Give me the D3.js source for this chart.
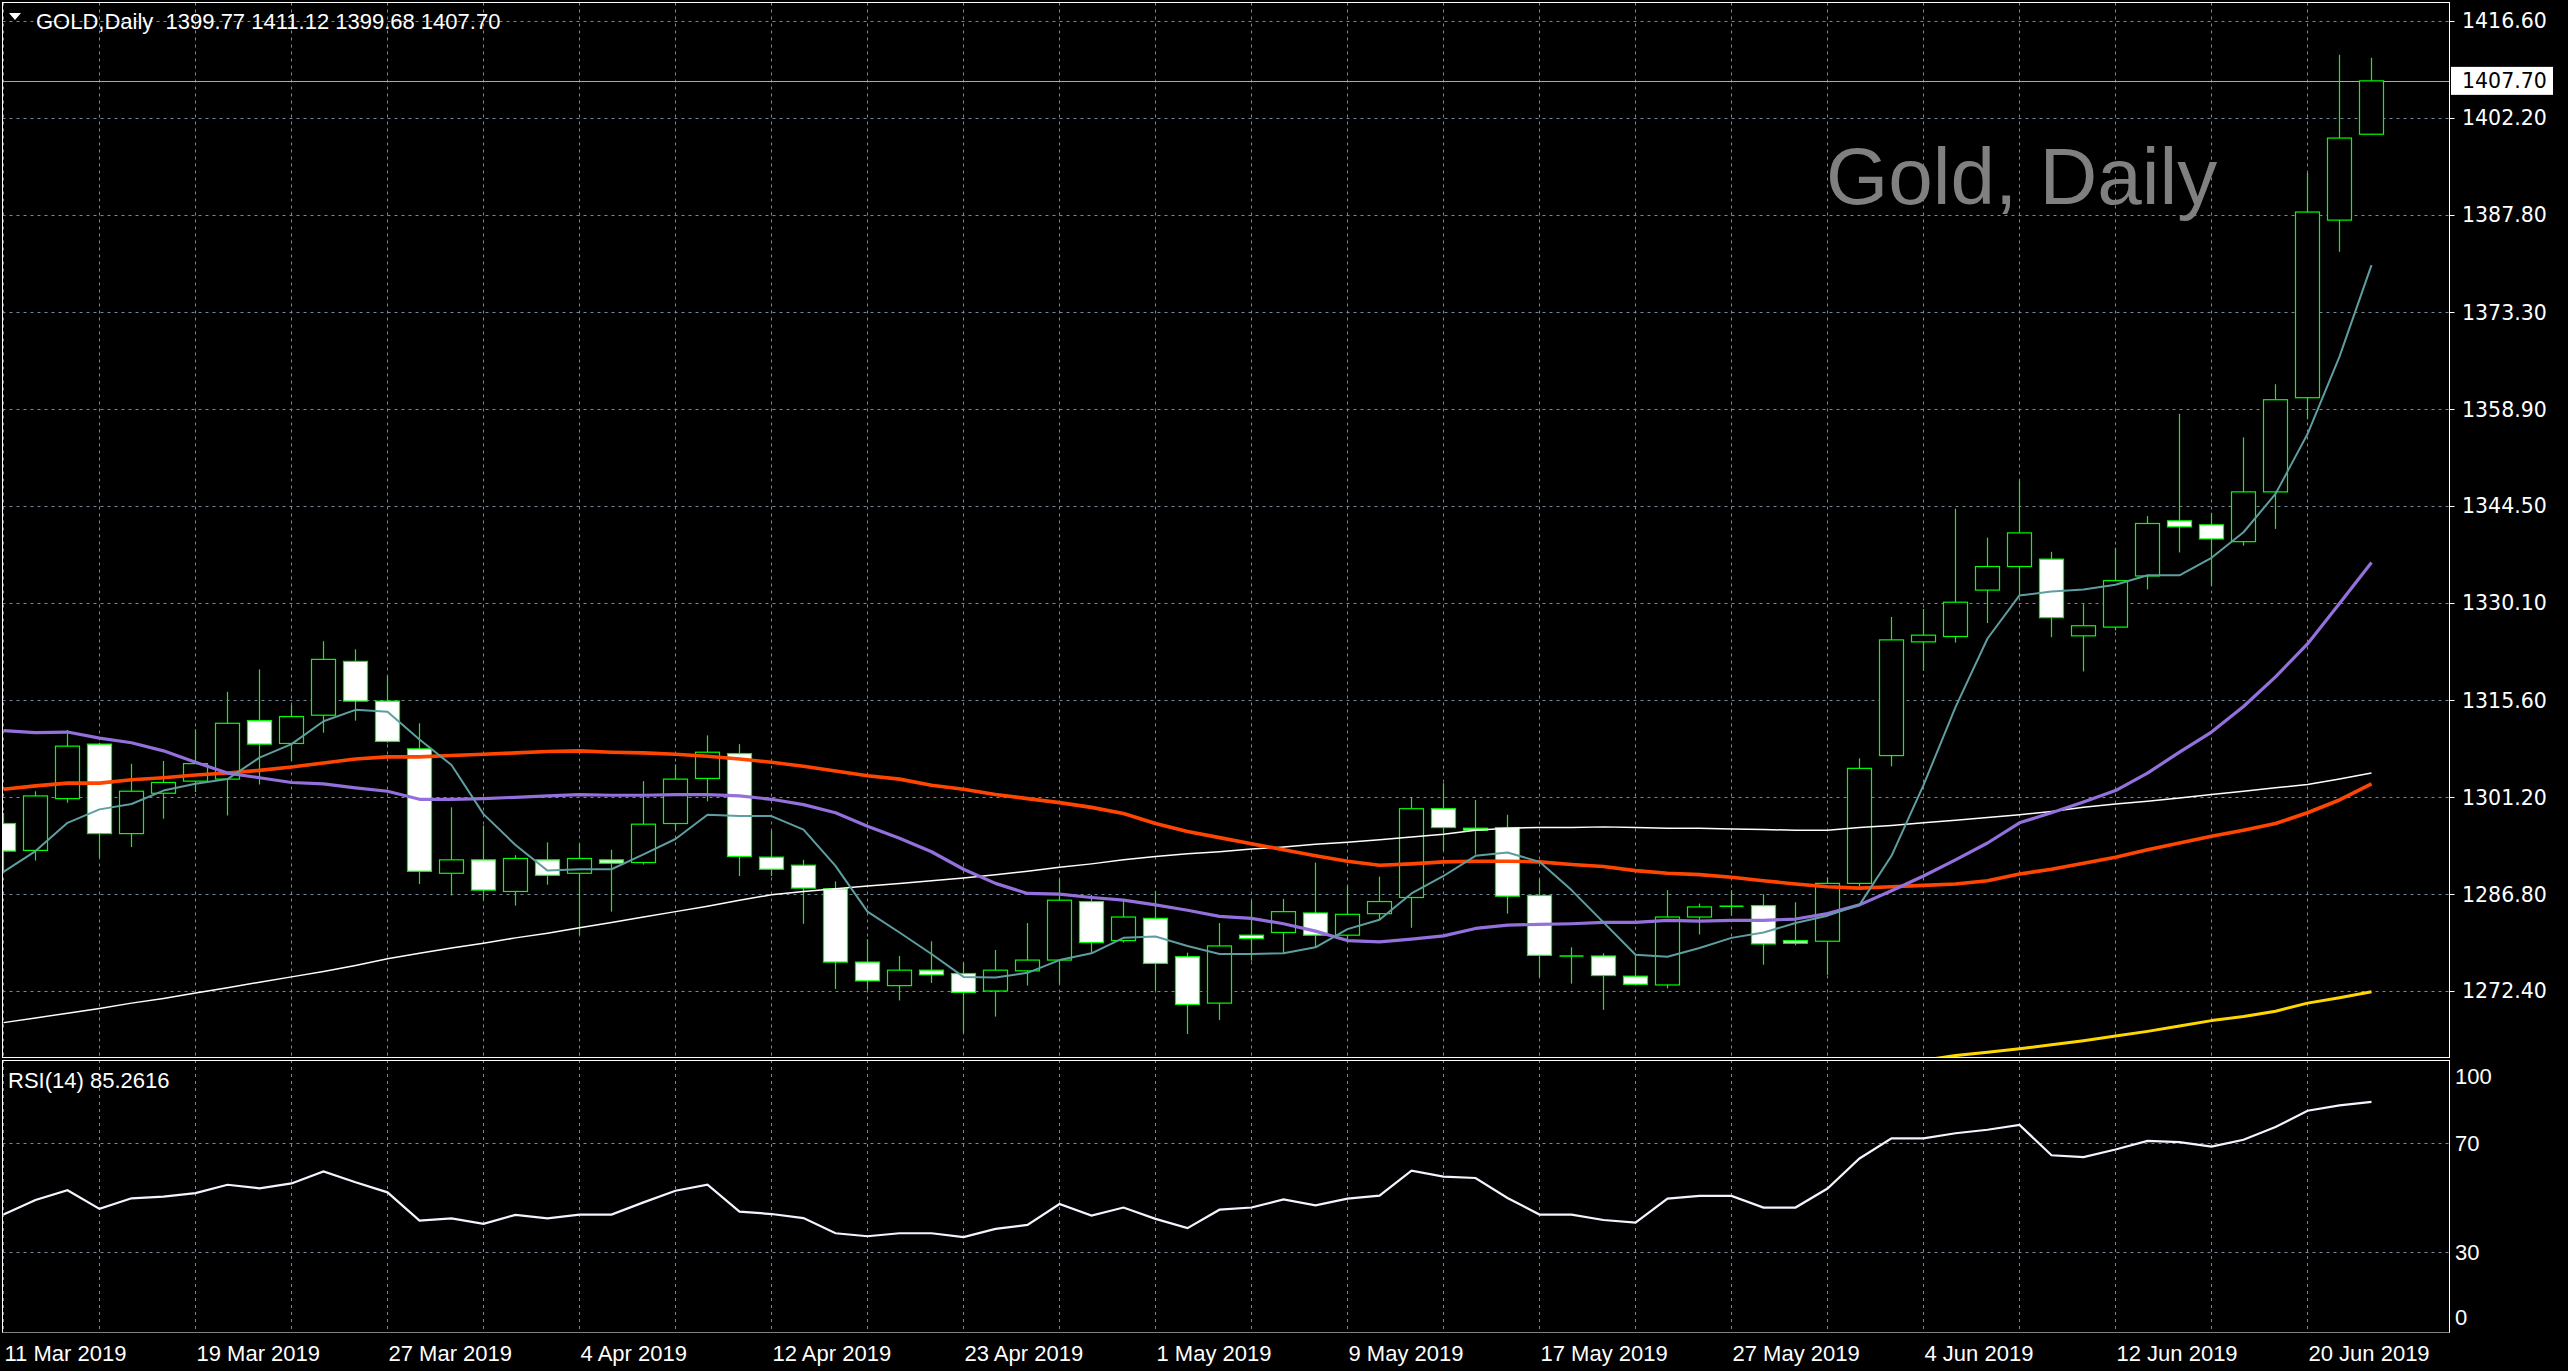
<!DOCTYPE html>
<html><head><meta charset="utf-8">
<script src="https://cdn.jsdelivr.net/npm/d3@7"></script>
<style>html,body{margin:0;padding:0;background:#000;overflow:hidden}</style>
</head><body>
<svg id="chart" width="2568" height="1371"></svg>
<script>
// ---------------- DATA ----------------
const dates = [
 "2019-03-11","2019-03-12","2019-03-13","2019-03-14","2019-03-15","2019-03-18","2019-03-19","2019-03-20","2019-03-21","2019-03-22",
 "2019-03-25","2019-03-26","2019-03-27","2019-03-28","2019-03-29","2019-04-01","2019-04-02","2019-04-03","2019-04-04","2019-04-05",
 "2019-04-08","2019-04-09","2019-04-10","2019-04-11","2019-04-12","2019-04-15","2019-04-16","2019-04-17","2019-04-18","2019-04-22",
 "2019-04-23","2019-04-24","2019-04-25","2019-04-26","2019-04-29","2019-04-30","2019-05-01","2019-05-02","2019-05-03","2019-05-06",
 "2019-05-07","2019-05-08","2019-05-09","2019-05-10","2019-05-13","2019-05-14","2019-05-15","2019-05-16","2019-05-17","2019-05-20",
 "2019-05-21","2019-05-22","2019-05-23","2019-05-24","2019-05-27","2019-05-28","2019-05-29","2019-05-30","2019-05-31","2019-06-03",
 "2019-06-04","2019-06-05","2019-06-06","2019-06-07","2019-06-10","2019-06-11","2019-06-12","2019-06-13","2019-06-14","2019-06-17",
 "2019-06-18","2019-06-19","2019-06-20","2019-06-21","2019-06-24"];

const openP = [1297.3,1293.3,1301.0,1309.1,1295.8,1301.8,1303.6,1303.9,1312.6,1309.2,
 1313.4,1321.4,1315.5,1308.4,1289.9,1291.9,1287.2,1291.9,1289.9,1291.9,
 1291.5,1297.3,1304.0,1307.7,1292.3,1291.1,1287.6,1276.7,1273.2,1275.5,
 1275.0,1272.4,1275.4,1277.0,1285.7,1279.9,1283.2,1277.5,1270.6,1280.7,
 1281.1,1284.0,1280.7,1283.9,1286.3,1299.5,1296.6,1296.7,1286.6,1277.6,
 1277.6,1274.6,1273.3,1283.4,1285.0,1285.1,1279.9,1279.8,1288.4,1307.4,
 1324.3,1325.1,1332.0,1335.5,1336.6,1325.2,1326.5,1334.1,1342.3,1341.7,
 1339.2,1346.6,1360.6,1387.0,1399.77];
const highP = [1298.9,1302.1,1311.2,1309.3,1306.2,1306.6,1311.3,1316.9,1320.2,1314.9,
 1324.4,1323.2,1319.2,1312.2,1299.7,1297.0,1292.6,1294.5,1294.3,1293.4,
 1303.6,1306.1,1310.4,1309.1,1296.2,1291.9,1288.7,1280.1,1277.6,1279.8,
 1276.6,1278.5,1282.5,1289.0,1286.7,1285.8,1287.3,1278.1,1282.5,1285.8,
 1286.1,1291.5,1288.1,1289.4,1301.2,1303.3,1300.8,1298.6,1289.0,1278.9,
 1278.0,1277.7,1287.4,1285.4,1287.4,1286.8,1285.6,1289.3,1307.0,1328.0,
 1329.2,1344.1,1339.8,1348.3,1337.7,1329.9,1338.3,1343.0,1358.2,1343.5,
 1354.7,1362.6,1394.0,1411.6,1411.12];
const lowP = [1290.2,1291.8,1300.4,1292.2,1293.8,1298.0,1302.0,1298.5,1303.1,1306.6,
 1310.8,1312.6,1309.3,1288.3,1286.6,1286.0,1285.1,1288.2,1280.7,1284.2,
 1291.2,1296.3,1300.6,1289.5,1289.5,1282.4,1272.7,1272.6,1271.0,1273.6,
 1266.2,1268.6,1273.2,1273.5,1278.1,1279.6,1272.5,1266.0,1268.1,1276.9,
 1278.0,1278.8,1279.6,1283.0,1281.8,1293.2,1292.7,1283.9,1274.5,1273.5,
 1269.6,1273.3,1272.8,1280.8,1283.6,1276.3,1279.2,1274.8,1287.9,1305.8,
 1320.0,1324.2,1327.1,1331.2,1325.0,1319.9,1326.0,1332.1,1337.6,1332.6,
 1338.6,1341.1,1357.4,1382.3,1399.68];
const closeP = [1293.2,1301.4,1308.8,1295.8,1302.1,1303.4,1306.2,1312.2,1309.1,1313.2,
 1321.7,1315.5,1309.5,1290.2,1291.9,1287.4,1292.1,1289.6,1292.1,1291.4,
 1297.2,1303.9,1307.9,1292.4,1290.5,1287.7,1276.7,1273.9,1275.5,1274.8,
 1272.2,1275.5,1277.0,1285.9,1279.6,1283.4,1276.5,1270.4,1279.1,1280.2,
 1284.2,1280.7,1283.8,1285.7,1299.5,1296.7,1296.3,1286.5,1277.7,1277.6,
 1274.7,1273.4,1283.4,1284.9,1285.0,1279.4,1279.5,1288.4,1305.5,1324.6,
 1325.3,1330.2,1335.5,1340.5,1327.9,1326.7,1333.4,1341.9,1341.4,1339.6,
 1346.6,1360.3,1388.2,1399.2,1407.70];

// moving averages
const maFast = [1290.1,1293.2,1297.4,1299.4,1300.2,1302.2,1303.2,1303.9,1307.1,1309.1,
 1312.5,1314.2,1313.9,1309.8,1306.0,1298.7,1294.1,1290.3,1290.5,1290.5,
 1292.7,1295.0,1298.6,1298.4,1298.4,1296.4,1291.0,1284.2,1281.1,1277.9,
 1274.5,1274.4,1275.1,1277.0,1278.0,1280.3,1280.5,1279.1,1277.9,1277.9,
 1278.0,1278.9,1281.6,1283.0,1286.9,1289.5,1292.5,1293.0,1291.6,1287.4,
 1282.6,1277.8,1277.5,1278.8,1280.3,1281.1,1282.5,1283.6,1285.2,1292.5,
 1303.0,1314.6,1324.8,1331.2,1331.8,1332.1,1332.8,1334.2,1334.2,1336.8,
 1340.6,1346.3,1355.2,1366.7,1380.3];
const maMid = [1311.1,1310.8,1310.9,1310.0,1309.3,1308.1,1306.4,1304.8,1304.1,1303.4,
 1303.2,1302.6,1302.1,1300.9,1300.9,1301.0,1301.2,1301.4,1301.6,1301.5,
 1301.5,1301.6,1301.6,1301.4,1300.9,1300.1,1298.9,1296.9,1295.1,1293.1,
 1290.5,1288.4,1286.9,1286.8,1286.3,1285.9,1285.2,1284.4,1283.5,1283.2,
 1282.4,1281.3,1279.9,1279.7,1280.1,1280.6,1281.7,1282.2,1282.3,1282.4,
 1282.6,1282.6,1282.9,1282.8,1282.9,1282.9,1283.1,1283.9,1285.2,1287.3,
 1289.5,1291.9,1294.4,1297.4,1298.9,1300.5,1302.2,1304.8,1307.9,1310.9,
 1314.7,1319.1,1324.0,1330.0,1336.1];
const maSlow = [1302.4,1302.9,1303.3,1303.3,1303.8,1304.1,1304.5,1304.8,1305.2,1305.7,
 1306.3,1306.9,1307.2,1307.2,1307.4,1307.6,1307.8,1308.0,1308.1,1307.9,
 1307.8,1307.6,1307.3,1306.9,1306.4,1305.8,1305.1,1304.4,1303.9,1303.0,
 1302.4,1301.6,1301.0,1300.4,1299.7,1298.8,1297.3,1296.1,1295.2,1294.3,
 1293.4,1292.5,1291.7,1291.1,1291.3,1291.6,1291.7,1291.7,1291.6,1291.2,
 1290.9,1290.3,1289.9,1289.7,1289.3,1288.8,1288.3,1287.9,1287.7,1287.9,
 1288.1,1288.3,1288.8,1289.8,1290.5,1291.4,1292.3,1293.4,1294.4,1295.4,
 1296.3,1297.3,1298.9,1300.8,1303.2];
const maLong = [1267.7,1268.4,1269.1,1269.8,1270.6,1271.3,1272.1,1272.9,1273.7,1274.5,
 1275.3,1276.2,1277.2,1278.0,1278.8,1279.5,1280.3,1281.0,1281.8,1282.6,
 1283.4,1284.2,1285.0,1285.9,1286.7,1287.2,1287.6,1288.0,1288.4,1288.8,
 1289.2,1289.7,1290.2,1290.8,1291.3,1291.9,1292.4,1292.8,1293.1,1293.5,
 1293.8,1294.2,1294.5,1294.9,1295.3,1295.7,1296.3,1296.6,1296.7,1296.7,
 1296.8,1296.7,1296.6,1296.6,1296.5,1296.4,1296.3,1296.3,1296.7,1297.0,
 1297.4,1297.8,1298.2,1298.6,1299.1,1299.7,1300.2,1300.6,1301.1,1301.6,
 1302.1,1302.6,1303.1,1303.9,1304.8];
const maVeryLongFrom = "2019-06-04";
const maVeryLong = [1262.1,1262.8,1263.3,1263.8,1264.4,1265.0,1265.7,1266.4,1267.2,1268.0,
 1268.6,1269.4,1270.6,1271.4,1272.3];

const rsiValues = [43.7,49.1,52.7,45.8,49.7,50.3,51.6,54.7,53.4,55.2,
 59.6,55.6,51.9,41.5,42.3,40.3,43.6,42.3,43.7,43.7,
 48.2,52.5,54.7,44.8,43.9,42.4,36.8,35.7,36.8,36.8,
 35.4,38.4,39.9,47.6,43.3,46.3,42.1,38.7,45.5,46.3,
 49.3,47.1,49.6,50.7,59.9,57.7,57.2,49.8,43.7,43.7,
 41.7,40.7,49.6,50.6,50.6,46.3,46.3,53.3,64.4,71.8,
 71.8,73.7,75.0,76.8,65.6,64.9,67.7,70.9,70.4,68.8,
 71.3,76.0,82.0,84.0,85.26];

const priceTicks = [1416.60,1402.20,1387.80,1373.30,1358.90,1344.50,1330.10,1315.60,1301.20,1286.80,1272.40];
const rsiTicks = [100,70,30,0];
const rsiGridLevels = [70,30];
const lastPrice = 1407.70;
const headerText = "GOLD,Daily  1399.77 1411.12 1399.68 1407.70";
const rsiHeader = "RSI(14) 85.2616";
const watermark = "Gold, Daily";

// ---------------- LAYOUT ----------------
const L = 2.5, R = 2449.5, T = 2.5, MB = 1057, RT = 1060, RB = 1332.5;
const labelFont = "'Liberation Sans', Arial, sans-serif";
const priceFont = "'DejaVu Sans', Verdana, sans-serif";
const gridColor = "#778899";
const candleColor = "#00ff00";

const svg = d3.select("#chart");
svg.append("rect").attr("width", 2568).attr("height", 1371).attr("fill", "#000");

const x = d3.scalePoint().domain(dates).range([3.5, 3.5 + 32 * (dates.length - 1)]);
const y = d3.scaleLinear().domain([1262.59, 1419.35]).range([MB, T]);
const yR = d3.scaleLinear().domain([0, 100]).range([1333, 1062]);
const fmtDate = d3.timeFormat("%-d %b %Y");
const parse = d3.timeParse("%Y-%m-%d");

const defs = svg.append("defs");
defs.append("clipPath").attr("id", "clipMain").append("rect")
  .attr("x", L).attr("y", T).attr("width", R - L).attr("height", MB - T);
defs.append("clipPath").attr("id", "clipRsi").append("rect")
  .attr("x", L).attr("y", RT).attr("width", R - L).attr("height", RB - RT);

// ---- grid ----
const grid = svg.append("g").attr("stroke", gridColor).attr("stroke-width", 1).attr("stroke-dasharray", "3,4");
const vIdx = dates.filter((d, i) => i % 3 === 0);
grid.selectAll(".vg").data(vIdx).join("line")
  .attr("x1", d => x(d)).attr("x2", d => x(d)).attr("y1", T).attr("y2", MB);
grid.selectAll(".vgr").data(vIdx).join("line")
  .attr("x1", d => x(d)).attr("x2", d => x(d)).attr("y1", RT).attr("y2", RB);
grid.selectAll(".hg").data(priceTicks).join("line")
  .attr("x1", L).attr("x2", R).attr("y1", d => Math.round(y(d)) + 0.5).attr("y2", d => Math.round(y(d)) + 0.5);
grid.selectAll(".hgr").data(rsiGridLevels).join("line")
  .attr("x1", L).attr("x2", R).attr("y1", d => Math.round(yR(d)) + 0.5).attr("y2", d => Math.round(yR(d)) + 0.5);

// ---- watermark ----
svg.append("text").attr("x", 1826).attr("y", 204)
  .attr("font-family", "'Liberation Sans', Arial, sans-serif").attr("font-size", 80)
  .attr("fill", "#808080").text(watermark);

// ---- last price line ----
const main = svg.append("g").attr("clip-path", "url(#clipMain)");
main.append("line").attr("x1", L).attr("x2", R)
  .attr("y1", Math.round(y(lastPrice)) + 0.5).attr("y2", Math.round(y(lastPrice)) + 0.5)
  .attr("stroke", "#a9a9a9").attr("stroke-width", 1);

// ---- candles ----
const bars = dates.map((d, i) => ({d, o: openP[i], h: highP[i], l: lowP[i], c: closeP[i]}));
const cg = main.append("g");
cg.selectAll(".wick").data(bars).join("line")
  .attr("x1", b => x(b.d)).attr("x2", b => x(b.d))
  .attr("y1", b => y(b.h)).attr("y2", b => y(b.l))
  .attr("stroke", candleColor).attr("stroke-width", 1.2);
cg.selectAll(".body").data(bars.filter(b => Math.abs(y(b.o) - y(b.c)) >= 1)).join("rect")
  .attr("x", b => x(b.d) - 12).attr("width", 24)
  .attr("y", b => Math.min(y(b.o), y(b.c))).attr("height", b => Math.abs(y(b.o) - y(b.c)))
  .attr("fill", b => b.c >= b.o ? "#000" : "#fff")
  .attr("stroke", candleColor).attr("stroke-width", 1.2);
cg.selectAll(".doji").data(bars.filter(b => Math.abs(y(b.o) - y(b.c)) < 1)).join("line")
  .attr("x1", b => x(b.d) - 12).attr("x2", b => x(b.d) + 12)
  .attr("y1", b => y(b.c)).attr("y2", b => y(b.c))
  .attr("stroke", candleColor).attr("stroke-width", 1.5);

// ---- moving averages ----
const lineGen = d3.line().x(p => x(p[0])).y(p => y(p[1]));
function drawMA(vals, from, color, width) {
  const start = dates.indexOf(from);
  const pts = vals.map((v, i) => [dates[start + i], v]);
  main.append("path").datum(pts).attr("d", lineGen)
    .attr("fill", "none").attr("stroke", color).attr("stroke-width", width)
    .attr("stroke-linejoin", "round");
}
drawMA(maLong, dates[0], "#ffffff", 1.5);
drawMA(maVeryLong, maVeryLongFrom, "#ffd700", 3);
drawMA(maSlow, dates[0], "#ff4500", 3.6);
drawMA(maMid, dates[0], "#9370db", 3.2);
drawMA(maFast, dates[0], "#5f9ea0", 2);

// ---- RSI ----
const rsiG = svg.append("g").attr("clip-path", "url(#clipRsi)");
rsiG.append("path").datum(dates.map((d, i) => [d, rsiValues[i]]))
  .attr("d", d3.line().x(p => x(p[0])).y(p => yR(p[1])))
  .attr("fill", "none").attr("stroke", "#f4f4ff").attr("stroke-width", 2.2);

// ---- frames ----
const fr = svg.append("g").attr("fill", "none").attr("stroke", "#fff").attr("stroke-width", 1);
fr.append("rect").attr("x", L).attr("y", T).attr("width", R - L).attr("height", MB - T + 0.5);
fr.append("line").attr("x1", L).attr("x2", L).attr("y1", RT).attr("y2", RB);
fr.append("line").attr("x1", R).attr("x2", R).attr("y1", RT).attr("y2", RB);
fr.append("line").attr("x1", L).attr("x2", R).attr("y1", RT + 0.5).attr("y2", RT + 0.5);
fr.append("line").attr("x1", L).attr("x2", R).attr("y1", RB).attr("y2", RB)
  .attr("stroke-dasharray", "1,1");

// ---- price axis ----
const pa = svg.append("g");
pa.selectAll("line").data(priceTicks).join("line")
  .attr("x1", R).attr("x2", R + 5)
  .attr("y1", d => Math.round(y(d)) + 0.5).attr("y2", d => Math.round(y(d)) + 0.5)
  .attr("stroke", "#fff");
pa.selectAll("text").data(priceTicks).join("text")
  .attr("x", 2462).attr("y", d => y(d)).attr("dy", "0.36em")
  .attr("font-family", priceFont).attr("font-size", 20.5).attr("fill", "#fff")
  .text(d => d3.format(".2f")(d));
pa.append("rect").attr("x", 2451).attr("y", y(lastPrice) - 14).attr("width", 102).attr("height", 28).attr("fill", "#fff");
pa.append("text").attr("x", 2462).attr("y", y(lastPrice)).attr("dy", "0.36em")
  .attr("font-family", priceFont).attr("font-size", 20.5).attr("fill", "#000")
  .text(d3.format(".2f")(lastPrice));

// ---- RSI axis ----
svg.append("g").selectAll("text").data(rsiTicks).join("text")
  .attr("x", 2455).attr("y", d => Math.max(RT + 16, Math.min(RB - 15, yR(d)))).attr("dy", "0.36em")
  .attr("font-family", labelFont).attr("font-size", 22).attr("fill", "#fff")
  .text(d => d);

// ---- date axis ----
svg.append("g").selectAll("text").data(dates.filter((d, i) => i % 6 === 0)).join("text")
  .attr("x", d => x(d) + 1).attr("y", 1361)
  .attr("font-family", labelFont).attr("font-size", 22).attr("fill", "#fff")
  .text(d => fmtDate(parse(d)));

// ---- headers ----
svg.append("polygon").attr("points", "9,13 21,13 15,20").attr("fill", "#fff");
svg.append("text").attr("x", 36).attr("y", 29).style("white-space", "pre")
  .attr("font-family", labelFont).attr("font-size", 22).attr("fill", "#fff")
  .text(headerText);
svg.append("text").attr("x", 8).attr("y", 1088)
  .attr("font-family", labelFont).attr("font-size", 22).attr("fill", "#fff")
  .text(rsiHeader);
</script>
</body></html>
